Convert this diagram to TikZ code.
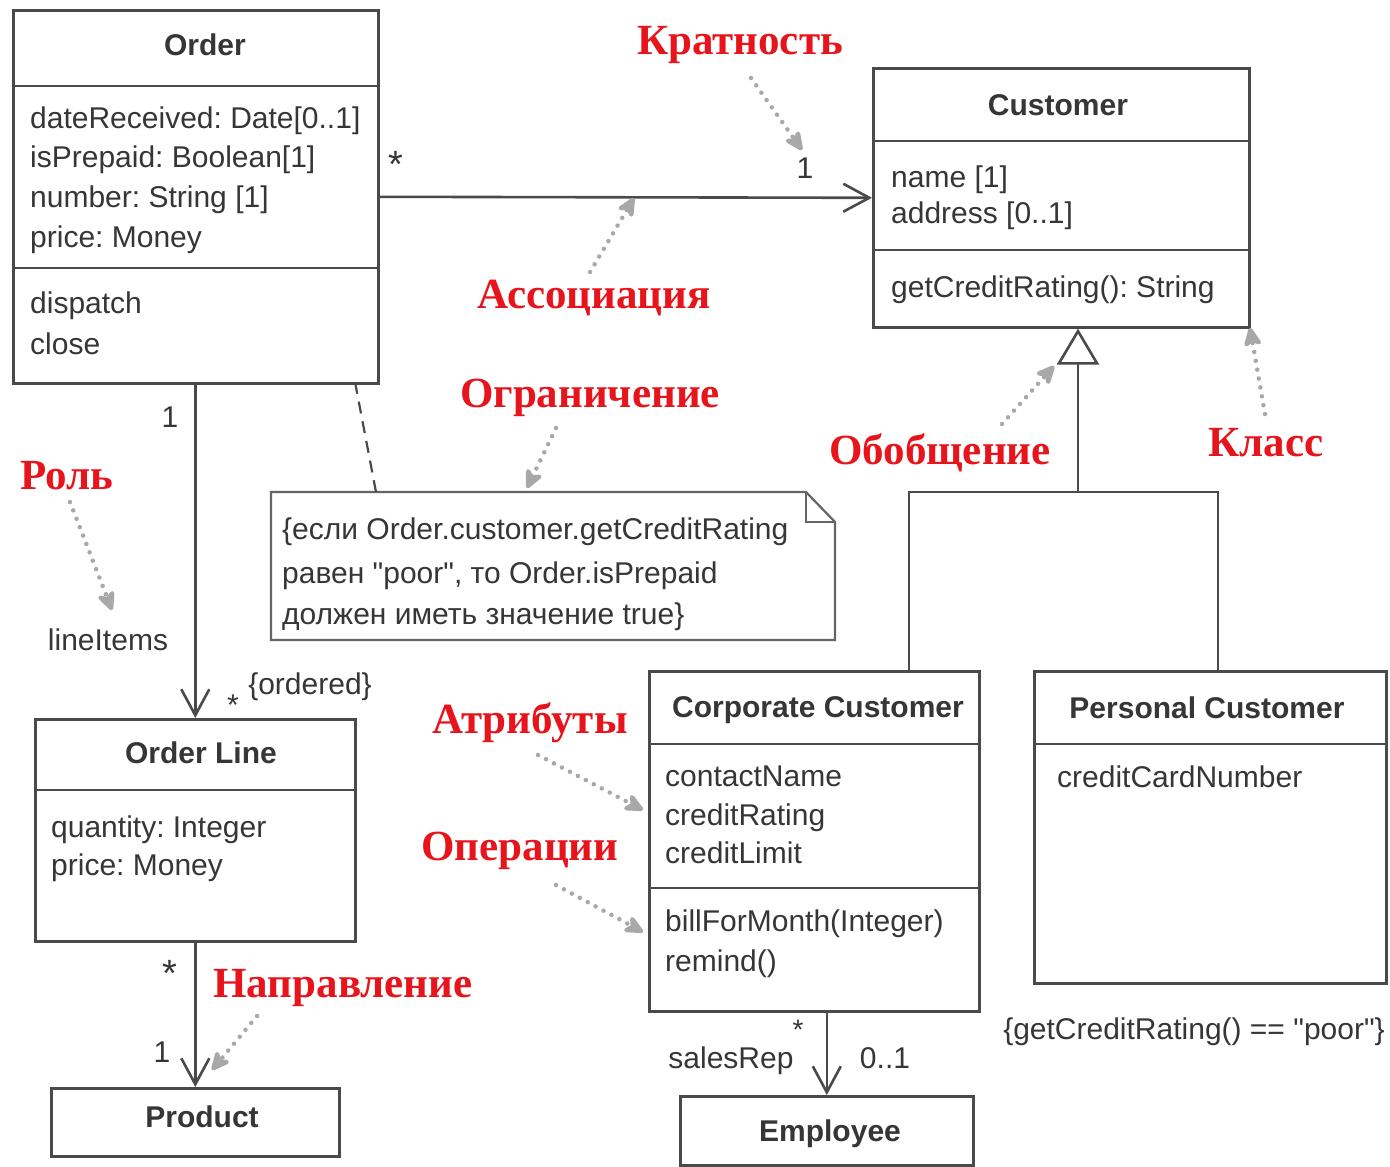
\documentclass[tikz,border=0pt]{standalone}
\usepackage{fontspec}
\setmainfont{Liberation Sans}
\newfontfamily\rawsans{Liberation Sans}
\newfontfamily\serifbf{Liberation Serif}[BoldFont={Liberation Serif Bold}]
\usetikzlibrary{arrows.meta}
\frenchspacing
\definecolor{linec}{HTML}{4A4A4A}
\definecolor{txtc}{HTML}{363636}
\definecolor{calloutc}{HTML}{E8141C}
\definecolor{ptrc}{HTML}{A8A8A8}
% straight double quote, kept out of the TeX ligature mapping
\newcommand{\qq}{{\rawsans\char34}}
\tikzset{
  box/.style={draw=linec, line width=2.6pt, fill=white, rectangle, anchor=north west, inner sep=0pt},
  link/.style={draw=linec, line width=2.6pt},
  nav/.style={link, -{Straight Barb[length=26pt,width=28pt,line width=2.6pt]}},
  gen/.style={link, -{Triangle[open,length=36pt,width=42pt,fill=white,line width=2.6pt]}},
  tx/.style={font=\fontsize{30}{36}\selectfont, text=txtc, inner sep=0pt, anchor=base west},
  ttl/.style={font=\fontsize{30}{36}\selectfont\bfseries, text=txtc, inner sep=0pt, anchor=base},
  lab/.style={font=\fontsize{30}{36}\selectfont, text=txtc, inner sep=0pt, anchor=base},
  star/.style={font=\fontsize{38}{40}\selectfont, text=txtc, inner sep=0pt},
  callout/.style={font=\fontsize{43}{50}\selectfont\serifbf\bfseries, text=calloutc, inner sep=0pt},
  ptr/.style={draw=ptrc, line width=4.5pt, dash pattern=on 0pt off 9pt, line cap=round,
    -{Stealth[length=24pt,width=22pt,inset=7pt,round=false]}},
}
\begin{document}
\begin{tikzpicture}[x=1pt,y=-1pt]
\useasboundingbox[fill=white] (0,0) rectangle (1390,1167);

% ---------- class boxes ----------
\node[box, minimum width=365pt, minimum height=373pt] (order) at (12,9) {};
\draw[link] (order.west |- 0,86) -- (order.east |- 0,86);
\draw[link] (order.west |- 0,268) -- (order.east |- 0,268);
\node[ttl] (orderT) at (205,55) {Order};
\node[tx] (o1) at (30,128) {dateReceived: Date[0..1]};
\node[tx] (o2) at (30,167) {isPrepaid: Boolean[1]};
\node[tx] (o3) at (30,207) {number: String [1]};
\node[tx] (o4) at (30,247) {price: Money};
\node[tx] (o5) at (30,313) {dispatch};
\node[tx] (o6) at (30,354) {close};

\node[box, minimum width=376pt, minimum height=259pt] (customer) at (872,67) {};
\draw[link] (customer.west |- 0,141) -- (customer.east |- 0,141);
\draw[link] (customer.west |- 0,250) -- (customer.east |- 0,250);
\node[ttl] (customerT) at (1058,115) {Customer};
\node[tx] (c1) at (891,187) {name [1]};
\node[tx] (c2) at (891,223) {address [0..1]};
\node[tx] (c3) at (891,297) {getCreditRating(): String};

\node[box, minimum width=330pt, minimum height=340pt] (corporate) at (648,670) {};
\draw[link] (corporate.west |- 0,744) -- (corporate.east |- 0,744);
\draw[link] (corporate.west |- 0,888) -- (corporate.east |- 0,888);
\node[ttl] (corporateT) at (818,717) {Corporate Customer};
\node[tx] (k1) at (665,786) {contactName};
\node[tx] (k2) at (665,825) {creditRating};
\node[tx] (k3) at (665,863) {creditLimit};
\node[tx] (k4) at (665,931) {billForMonth(Integer)};
\node[tx] (k5) at (665,971) {remind()};

\node[box, minimum width=352pt, minimum height=312pt] (personal) at (1033,670) {};
\draw[link] (personal.west |- 0,744) -- (personal.east |- 0,744);
\node[ttl] (personalT) at (1207,718) {Personal Customer};
\node[tx] (p1) at (1057,787) {creditCardNumber};
\node[lab] (pcons) at (1194,1039) {\{getCreditRating() == \qq poor\qq\}};

\node[box, minimum width=320pt, minimum height=222pt] (orderline) at (34,718) {};
\draw[link] (orderline.west |- 0,790) -- (orderline.east |- 0,790);
\node[ttl] (orderlineT) at (201,763) {Order Line};
\node[tx] (l1) at (51,837) {quantity: Integer};
\node[tx] (l2) at (51,875) {price: Money};

\node[box, minimum width=288pt, minimum height=68pt] (product) at (50,1087) {};
\node[ttl] (productT) at (202,1127) {Product};

\node[box, minimum width=293pt, minimum height=69pt] (employee) at (679,1095) {};
\node[ttl] (employeeT) at (830,1141) {Employee};

% ---------- constraint note ----------
\coordinate (nA) at (271,492);
\coordinate (nB) at (806,492);
\coordinate (nC) at (835,522);
\coordinate (nD) at (835,640);
\coordinate (nE) at (271,640);
\coordinate (nF) at (806,522);
\draw[draw=linec!85, line width=2.2pt, fill=white] (nA) -- (nB) -- (nC) -- (nD) -- (nE) -- cycle;
\draw[draw=linec!85, line width=2.2pt] (nB) -- (nF) -- (nC);
\node[tx] (n1) at (282,539) {\{если Order.customer.getCreditRating};
\node[tx] (n2) at (282,583) {равен \qq poor\qq, то Order.isPrepaid};
\node[tx] (n3) at (282,624) {должен иметь значение true\}};
\coordinate (oNote) at (355,382);
\coordinate (nTop) at (376,492);
\draw[link, line width=2.2pt, dash pattern=on 12pt off 8pt] (oNote) -- (nTop);

% ---------- associations ----------
\draw[nav] (order.east) -- (customer.west);
\node[star] (m1) at (396,164) {*};
\node[lab] (m2) at (805,178) {1};

\draw[nav] (order.south -| orderline.north) -- (orderline.north);
\node[lab] (m3) at (170,427) {1};
\node[lab] (role) at (108,650) {lineItems};
\node[star, font=\fontsize{30}{32}\selectfont] (m4) at (233,705) {*};
\node[lab] (ord) at (310,694) {\{ordered\}};

\draw[nav] (orderline.south) -- (product.north -| orderline.south);
\node[star] (m5) at (170,973) {*};
\node[lab] (m6) at (162,1062) {1};

\draw[nav] (corporate.south -| employee.north) -- (employee.north);
\node[star, font=\fontsize{28}{30}\selectfont] (m7) at (798,1030) {*};
\node[lab] (srep) at (731,1068) {salesRep};
\node[lab] (m8) at (885,1068) {0..1};

% ---------- generalization ----------
\coordinate (gj) at (1078,492);
\coordinate (gl) at (909,492);
\coordinate (gr) at (1218,492);
\draw[link] (gl |- corporate.north) -- (gl) -- (gr) -- (gr |- personal.north);
\draw[gen] (gj) -- (gj |- customer.south);

% ---------- callouts ----------
\node[callout] (kKr) at (740,45) {Кратность};
\node[callout] (kAs) at (594,298) {Ассоциация};
\node[callout] (kOg) at (590,398) {Ограничение};
\node[callout] (kRo) at (67,476) {Роль};
\node[callout] (kOb) at (940,453) {Обобщение};
\node[callout] (kKl) at (1266,443) {Класс};
\node[callout] (kAt) at (530,723) {Атрибуты};
\node[callout] (kOp) at (520,851) {Операции};
\node[callout] (kNa) at (343,988) {Направление};

\coordinate (tKr) at (802,150);
\coordinate (tAs) at (634,198);
\coordinate (tOg) at (527,488);
\coordinate (tRo) at (112,610);
\coordinate (tOb) at (1054,366);
\coordinate (tKl) at (1250,328);
\coordinate (tAt) at (643,810);
\coordinate (tOp) at (643,932);
\coordinate (tNa) at (212,1070);

\draw[ptr] (751,78) -- (tKr);
\draw[ptr] (590,272) -- (tAs);
\draw[ptr] (556,428) -- (tOg);
\draw[ptr] (70,502) -- (tRo);
\draw[ptr] (1002,424) -- (tOb);
\draw[ptr] (1265,414) -- (tKl);
\draw[ptr] (538,755) -- (tAt);
\draw[ptr] (556,885) -- (tOp);
\draw[ptr] (257,1016) -- (tNa);
\end{tikzpicture}
\end{document}
